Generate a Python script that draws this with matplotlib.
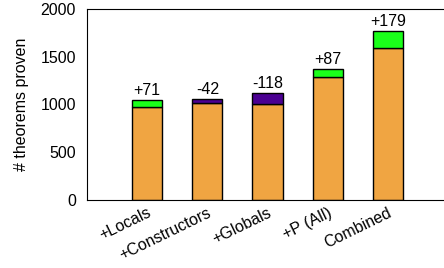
import matplotlib
matplotlib.use("Agg")
import matplotlib.pyplot as plt

plt.rcParams['font.family'] = ['Liberation Sans', 'DejaVu Sans']

# data
categories = ['+Locals', '+Constructors', '+Globals', '+P (All)', 'Combined']
base = [970, 1012, 1000, 1283, 1590]      # orange part (lower of the two values)
delta = [71, -42, -118, 87, 179]          # change, drawn on top

orange = '#F0A542'
green = '#1AFF1A'
purple = '#4B0092'

fig = plt.figure(figsize=(4.44, 2.68), dpi=100)
ax = fig.add_axes([87 / 444, 1 - 199.5 / 268, 361 / 444, 190.5 / 268])

x = range(len(categories))
ax.bar(x, base, width=0.5, color=orange, edgecolor='black', linewidth=1)
top_colors = [green if d > 0 else purple for d in delta]
ax.bar(x, [abs(d) for d in delta], bottom=base, width=0.5,
       color=top_colors, edgecolor='black', linewidth=1)

for i, d in enumerate(delta):
    label = f'+{d}' if d > 0 else f'{d}'
    ax.text(i, base[i] + abs(d) + 20, label, ha='center', va='bottom', fontsize=11.5)

ax.set_xlim(-1, 5)
ax.set_ylim(0, 2000)
ax.set_yticks([0, 500, 1000, 1500, 2000])
ax.set_xticks(list(x))
ax.set_xticklabels(categories, rotation=26, ha='right', rotation_mode='anchor')
ax.tick_params(axis='both', length=0)
ax.tick_params(axis='y', pad=8, labelsize=11.5)
ax.tick_params(axis='x', pad=4, labelsize=11.5)
ax.set_ylabel('# theorems proven', fontsize=11.5, labelpad=8)
ax.spines['right'].set_visible(False)

fig.savefig('out.png', dpi=100)
